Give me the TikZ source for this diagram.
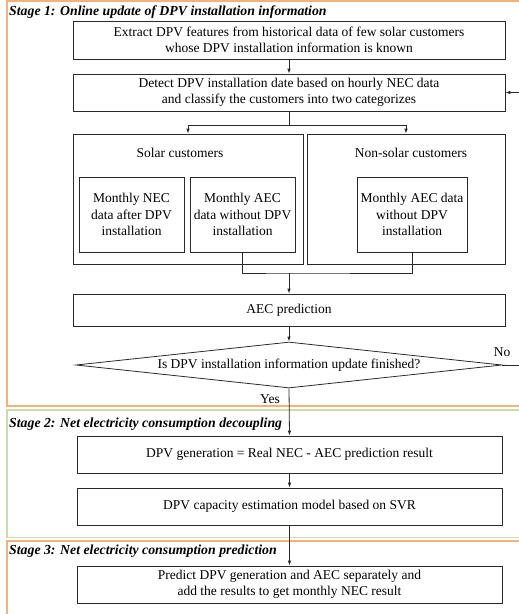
\documentclass[tikz,border=0pt]{standalone}
\usepackage{fontspec}
\setmainfont{Liberation Serif}
\usetikzlibrary{arrows.meta,shapes.geometric}
\definecolor{frameorange}{HTML}{F6B07A}
\definecolor{framegreen}{HTML}{C9DCAB}
\definecolor{linegray}{HTML}{2A2A2A}
\begin{document}
\begin{tikzpicture}[x=1pt,y=-1pt,
  every node/.style={font=\fontsize{13.5}{16.5}\selectfont},
  bx/.style={draw=linegray,line width=0.8pt,inner sep=0pt,align=center},
  lbl/.style={inner sep=0pt,align=center},
  stagetitle/.style={inner sep=0pt,anchor=base west,font=\fontsize{13.8}{16.5}\selectfont\bfseries\itshape},
  conn/.style={draw=linegray,line width=0.8pt},
  arr/.style={conn,-{Latex[length=5pt,width=3.6pt]}},
  frameo/.style={draw=frameorange,line width=1.1pt},
  frameg/.style={draw=framegreen,line width=1.1pt}]
\useasboundingbox (0,0) rectangle (519,614);
% stage frames
\draw[frameo] (7,1) rectangle (545,406);
\draw[frameg] (7,410) rectangle (545,537.5);
\draw[frameo] (7,541) rectangle (545,650);
% titles
\node[stagetitle] (t1) at (9,15) {Stage 1: Online update of DPV installation information};
\node[stagetitle] (t2) at (9,427) {Stage 2: Net electricity consumption decoupling};
\node[stagetitle] (t3) at (9,554) {Stage 3: Net electricity consumption prediction};
% stage 1
\node[bx,minimum width=432,minimum height=38] (b1) at (289,40)
  {Extract DPV features from historical data of few solar customers\\whose DPV installation information is known};
\node[bx,minimum width=432,minimum height=37] (b2) at (289,92.5)
  {Detect DPV installation date based on hourly NEC data\\and classify the customers into two categorizes};
\node[bx,minimum width=230,minimum height=130] (solar) at (188,199) {};
\node[bx,minimum width=198,minimum height=130] (nonsolar) at (406,199) {};
\node[lbl] (solarlbl) at (180,153) {Solar customers};
\node[lbl] (nslbl) at (411,153) {Non-solar customers};
\node[bx,minimum width=105,minimum height=75] (ia) at (131.5,214.5)
  {Monthly NEC\\data after DPV\\installation};
\node[bx,minimum width=105,minimum height=75] (ib) at (242.5,214.5)
  {Monthly AEC\\data without DPV\\installation};
\node[bx,minimum width=110,minimum height=75] (ic) at (412,214.5)
  {Monthly AEC data\\without DPV\\installation};
\node[bx,minimum width=432,minimum height=32] (aec) at (289,310) {AEC prediction};
\node[bx,diamond,shape aspect=9.26,minimum width=426,minimum height=46] (dec) at (289,365)
  {Is DPV installation information update finished?};
\node[lbl] (nolbl) at (502,352) {No};
\node[lbl] (yeslbl) at (270,399) {Yes};
% stage 2
\node[bx,minimum width=425,minimum height=37] (g1) at (289.5,454.5)
  {DPV generation = Real NEC - AEC prediction result};
\node[bx,minimum width=425,minimum height=37] (g2) at (289.5,506.5)
  {DPV capacity estimation model based on SVR};
% stage 3
\node[bx,minimum width=425,minimum height=37] (p1) at (289.5,584.5)
  {Predict DPV generation and AEC separately and\\add the results to get monthly NEC result};
% connectors
\draw[arr] (b1.south) -- (b2.north);
\coordinate (br) at (289,125);
\draw[conn] (b2.south) -- (br);
\draw[arr] (br) -| (solar.north);
\draw[arr] (br) -| (nonsolar.north);
\coordinate (mg) at (289,273);
\draw[conn] (ib.south) |- (mg) -| (ic.south);
\draw[arr] (mg) -- (aec.north);
\draw[arr] (aec.south) -- (dec.north);
\draw[arr] (dec.east) -- ++(30,0) |- (b2.east);
\draw[arr] (dec.south) -- (g1.north);
\draw[arr] (g1.south) -- (g2.north);
\draw[arr] (g2.south) -- (p1.north);
\end{tikzpicture}
\end{document}
